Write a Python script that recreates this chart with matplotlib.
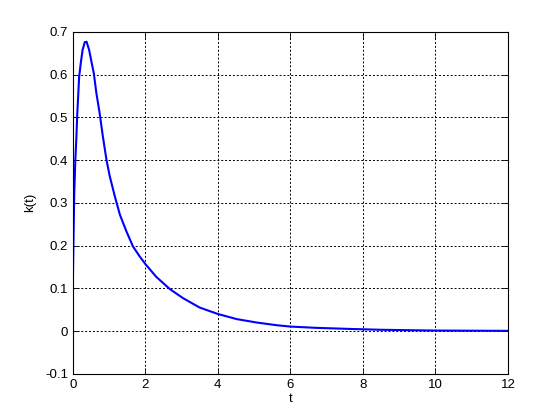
import matplotlib
matplotlib.use('Agg')
import matplotlib.pyplot as plt

# values
t = [0.0, 0.0, 0.02, 0.04, 0.07, 0.10, 0.12, 0.175, 0.22, 0.27, 0.33, 0.38, 0.45, 0.515,
     0.58, 0.65, 0.74, 0.83, 0.93, 1.02, 1.16, 1.30, 1.48, 1.66, 1.85, 2.0, 2.12, 2.30,
     2.68, 3.04, 3.50, 4.0, 4.52, 5.07, 5.62, 6.0, 6.72, 7.64, 8.5, 10.0, 12.0]
k = [0.0, 0.10, 0.221, 0.323, 0.40, 0.455, 0.502, 0.595, 0.627, 0.658, 0.676, 0.677, 0.658,
     0.63, 0.603, 0.557, 0.51, 0.455, 0.40, 0.362, 0.315, 0.272, 0.233, 0.198, 0.174, 0.157,
     0.145, 0.127, 0.098, 0.077, 0.055, 0.040, 0.028, 0.020, 0.0137, 0.0105, 0.0075, 0.005,
     0.003, 0.0012, 0.0005]

xticks = [0, 2, 4, 6, 8, 10, 12]
yticks = [-0.1, 0, 0.1, 0.2, 0.3, 0.4, 0.5, 0.6, 0.7]

plt.rcParams['font.family'] = ['Liberation Sans', 'DejaVu Sans']
plt.rcParams['font.size'] = 9.5

fig = plt.figure(figsize=(5.6, 4.2), dpi=100)
ax = fig.add_axes([0.13, 0.11, 0.777, 0.814])

ax.plot(t, k, color='#0000ff', linewidth=1.5)

ax.set_xlim(0, 12)
ax.set_ylim(-0.1, 0.7)
ax.set_xticks(xticks)
ax.set_yticks(yticks)
ax.set_yticklabels(['-0.1', '0', '0.1', '0.2', '0.3', '0.4', '0.5', '0.6', '0.7'])
ax.tick_params(direction='in', top=True, right=True, length=4, width=0.6, labelsize=9.5)
ax.grid(True, color='black', linestyle=(0, (2, 2)), linewidth=0.7)
for s in ax.spines.values():
    s.set_linewidth(0.8)

ax.set_xlabel('t', fontsize=9.5, labelpad=2)
ax.set_ylabel('k(t)', fontsize=9.5, labelpad=6)

fig.savefig('out.png', dpi=100)
